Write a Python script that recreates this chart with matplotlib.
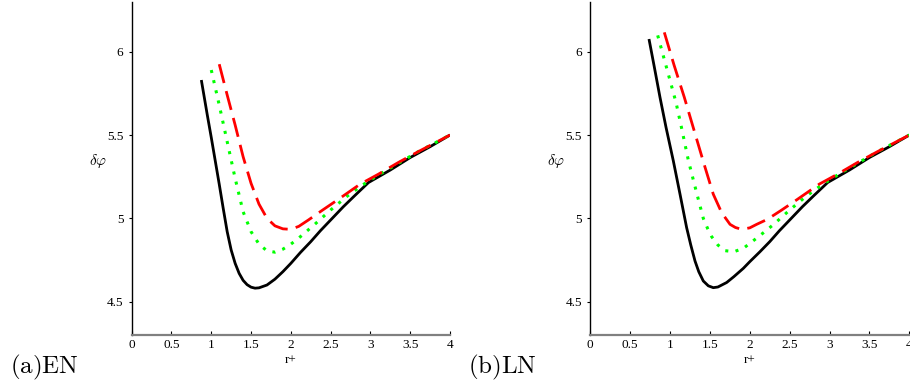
import matplotlib
matplotlib.use("Agg")
import matplotlib.pyplot as plt

plt.rcParams['mathtext.fontset'] = 'cm'

# ---- panel (a) EN ----
r_black_en = [0.875, 0.95, 1.0, 1.05, 1.1, 1.15, 1.2, 1.25, 1.3, 1.35, 1.4, 1.45, 1.5,
              1.55, 1.6, 1.7, 1.8, 1.9, 2.0, 2.12, 2.25, 2.37, 2.5, 2.66, 2.8, 2.976,
              3.25, 3.5, 3.75, 4.0]
y_black_en = [5.83, 5.62, 5.485, 5.345, 5.205, 5.06, 4.92, 4.81, 4.73, 4.67, 4.628, 4.602,
              4.587, 4.581, 4.583, 4.60, 4.635, 4.68, 4.73, 4.795, 4.86, 4.925, 4.99,
              5.07, 5.135, 5.215, 5.29, 5.365, 5.43, 5.5]

r_green_en = [1.0, 1.1, 1.2, 1.3, 1.4, 1.5, 1.6, 1.7, 1.8, 1.9, 2.0, 2.1, 2.2, 2.3, 2.5,
              2.7, 2.9, 3.1, 3.35, 3.6, 3.8, 4.0]
y_green_en = [5.89, 5.68, 5.46, 5.24, 5.04, 4.92, 4.845, 4.805, 4.797, 4.815, 4.845,
              4.882, 4.923, 4.964, 5.05, 5.13, 5.2, 5.26, 5.33, 5.40, 5.45, 5.5]

r_red_en = [1.1, 1.2, 1.3, 1.4, 1.5, 1.6, 1.7, 1.8, 1.9, 2.0, 2.1, 2.22, 2.4, 2.6, 2.87,
            3.1, 3.35, 3.6, 3.8, 4.0]
y_red_en = [5.925, 5.74, 5.56, 5.37, 5.21, 5.085, 5.0, 4.955, 4.937, 4.934, 4.952, 4.99,
            5.05, 5.115, 5.205, 5.265, 5.335, 5.40, 5.45, 5.5]

# ---- panel (b) LN ----
r_black_ln = [0.736, 0.8, 0.874, 0.95, 1.041, 1.125, 1.208, 1.26, 1.313, 1.36, 1.417,
              1.48, 1.542, 1.6, 1.71, 1.8, 1.919, 2.0, 2.128, 2.25, 2.37, 2.5, 2.66, 2.8,
              2.976, 3.25, 3.5, 3.75, 4.0]
y_black_ln = [6.076, 5.915, 5.726, 5.545, 5.345, 5.145, 4.944, 4.84, 4.744, 4.68, 4.624,
              4.595, 4.584, 4.588, 4.615, 4.65, 4.70, 4.74, 4.80, 4.86, 4.925, 4.99,
              5.07, 5.135, 5.215, 5.29, 5.365, 5.43, 5.5]

r_green_ln = [0.845, 0.95, 1.075, 1.15, 1.229, 1.292, 1.354, 1.417, 1.47, 1.522, 1.6,
              1.689, 1.802, 1.919, 2.023, 2.12, 2.2, 2.3, 2.5, 2.7, 2.9, 3.1, 3.35, 3.6,
              3.8, 4.0]
y_green_ln = [6.098, 5.915, 5.695, 5.53, 5.349, 5.23, 5.115, 5.0, 4.94, 4.89, 4.84,
              4.806, 4.80, 4.82, 4.858, 4.894, 4.925, 4.964, 5.05, 5.13, 5.2, 5.26, 5.33,
              5.40, 5.45, 5.5]

r_red_ln = [0.928, 1.05, 1.179, 1.3, 1.43, 1.542, 1.647, 1.752, 1.82, 1.898, 2.0, 2.086,
            2.22, 2.4, 2.6, 2.87, 3.1, 3.35, 3.6, 3.8, 4.0]
y_red_ln = [6.116, 5.92, 5.726, 5.53, 5.32, 5.145, 5.034, 4.964, 4.945, 4.934, 4.943,
            4.964, 4.994, 5.05, 5.115, 5.205, 5.265, 5.335, 5.40, 5.45, 5.5]

xticks = [0, 0.5, 1, 1.5, 2, 2.5, 3, 3.5, 4]
xtick_labels = ["0", "0.5", "1", "1.5", "2", "2.5", "3", "3.5", "4"]
yticks = [4.5, 5, 5.5, 6]
ytick_labels = ["4.5", "5", "5.5", "6"]

fig = plt.figure(figsize=(9.1, 3.89), dpi=100)
ax_a = fig.add_axes([131.7 / 910, 54 / 389, 318.3 / 910, 333.3 / 389])
ax_b = fig.add_axes([590.3 / 910, 54 / 389, 319.0 / 910, 333.3 / 389])

panels = [
    (ax_a, r_black_en, y_black_en, r_green_en, y_green_en, r_red_en, y_red_en),
    (ax_b, r_black_ln, y_black_ln, r_green_ln, y_green_ln, r_red_ln, y_red_ln),
]

for ax, rb, yb, rg, yg, rr, yr in panels:
    ax.plot(rb, yb, color="black", lw=2.0, solid_capstyle="butt")
    ax.plot(rg, yg, color="#00ff00", lw=2.2, linestyle=(0, (1, 2.4)))
    ax.plot(rr, yr, color="#ff0000", lw=2.0, linestyle=(0, (7, 3)))

    ax.set_xlim(0, 4)
    ax.set_ylim(4.3, 6.3)
    ax.set_xticks(xticks)
    ax.set_xticklabels(xtick_labels, family="Liberation Serif", fontsize=9.5)
    ax.set_yticks(yticks)
    ax.set_yticklabels(ytick_labels, family="Liberation Serif", fontsize=9.5)
    ax.tick_params(axis="x", direction="in", length=3, pad=3)
    ax.tick_params(axis="y", direction="out", length=2, pad=4)

    for side in ["top", "right"]:
        ax.spines[side].set_visible(False)
    ax.spines["left"].set_linewidth(1.0)
    ax.spines["bottom"].set_color("#808080")
    ax.spines["bottom"].set_linewidth(1.6)

    ax.set_xlabel("r+", family="Liberation Serif", fontsize=9.5, labelpad=2)
    ax.set_ylabel(r"$\delta\varphi$", fontsize=11, rotation=0)
    ax.yaxis.set_label_coords(-0.107, 0.495)

fig.text(10 / 910, 1 - 367 / 389, r"$\mathrm{(a)EN}$", fontsize=18, va="center", ha="left")
fig.text(468 / 910, 1 - 367 / 389, r"$\mathrm{(b)LN}$", fontsize=18, va="center", ha="left")

fig.savefig("out.png", dpi=100)
